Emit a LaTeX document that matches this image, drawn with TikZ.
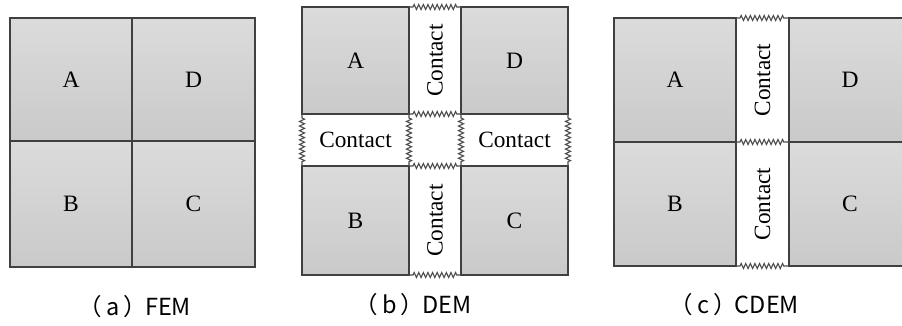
\documentclass[tikz,border=0pt]{standalone}
\usepackage{fontspec}
\setmainfont{Liberation Serif}
\newfontfamily\capfont{Noto Sans CJK SC}
\usetikzlibrary{decorations.pathmorphing}
\newcommand\capline[2]{（\kern4pt #1\kern4pt）\kern-2pt #2}
\begin{document}
\begin{tikzpicture}[x=1pt,y=-1pt,
  cell/.style={draw=black!75, line width=2.8pt, top color=black!14, bottom color=black!21,
    inner sep=0pt, outer sep=0pt, font=\fontsize{23.5}{25}\selectfont},
  spring/.style={draw=black!70, line width=1.1pt, decorate,
    decoration={zigzag, segment length=4.6pt, amplitude=2.5pt, pre length=4pt, post length=4pt}},
  contact/.style={font=\fontsize{23.3}{25}\selectfont, inner sep=0pt},
  caption/.style={font=\capfont\fontsize{23.5}{25}\selectfont, inner sep=0pt}]
\fill[white] (0,0) rectangle (902,325);
\useasboundingbox (0,0) rectangle (902,325);
% ---------- (a) FEM ----------
\node[cell, minimum width=122pt, minimum height=123pt] (aA) at (71,79.5) {A};
\node[cell, minimum width=123pt, minimum height=123pt] (aD) at (193.5,79.5) {D};
\node[cell, minimum width=122pt, minimum height=126pt] (aB) at (71,204) {B};
\node[cell, minimum width=123pt, minimum height=126pt] (aC) at (193.5,204) {C};
\node[caption] (capa) at (135,307) {\capline{a}{FEM}};
% ---------- (b) DEM ----------
\node[cell, minimum width=107pt, minimum height=107pt] (bA) at (355.5,60.5) {A};
\node[cell, minimum width=107pt, minimum height=107pt] (bD) at (514.5,60.5) {D};
\node[cell, minimum width=107pt, minimum height=109pt] (bB) at (355.5,220.5) {B};
\node[cell, minimum width=107pt, minimum height=109pt] (bC) at (514.5,220.5) {C};
\node[contact, rotate=90] (bK1) at (435,60.5) {Contact};
\node[contact] (bK2) at (355.5,140) {Contact};
\node[contact] (bK3) at (514.5,140) {Contact};
\node[contact, rotate=90] (bK4) at (435,220.5) {Contact};
\draw[spring] (bA.north east) -- (bD.north west);
\draw[spring] (bA.south east) -- (bD.south west);
\draw[spring] (bB.north east) -- (bC.north west);
\draw[spring] (bB.south east) -- (bC.south west);
\draw[spring] (bA.south west) -- (bB.north west);
\draw[spring] (bA.south east) -- (bB.north east);
\draw[spring] (bD.south west) -- (bC.north west);
\draw[spring] (bD.south east) -- (bC.north east);
\node[caption] (capb) at (413,305) {\capline{b}{DEM}};
% ---------- (c) CDEM ----------
\node[cell, minimum width=122pt, minimum height=124pt] (cA) at (675,80) {A};
\node[cell, minimum width=122pt, minimum height=124pt] (cB) at (675,204) {B};
\node[cell, minimum width=122pt, minimum height=124pt] (cD) at (850,80) {D};
\node[cell, minimum width=122pt, minimum height=124pt] (cC) at (850,204) {C};
\node[contact, rotate=90] (cK1) at (762.5,80) {Contact};
\node[contact, rotate=90] (cK2) at (762.5,204) {Contact};
\draw[spring] (cA.north east) -- (cD.north west);
\draw[spring] (cA.south east) -- (cD.south west);
\draw[spring] (cB.south east) -- (cC.south west);
\node[caption] (capc) at (734.5,305) {\capline{c}{CDEM}};
\end{tikzpicture}
\end{document}
